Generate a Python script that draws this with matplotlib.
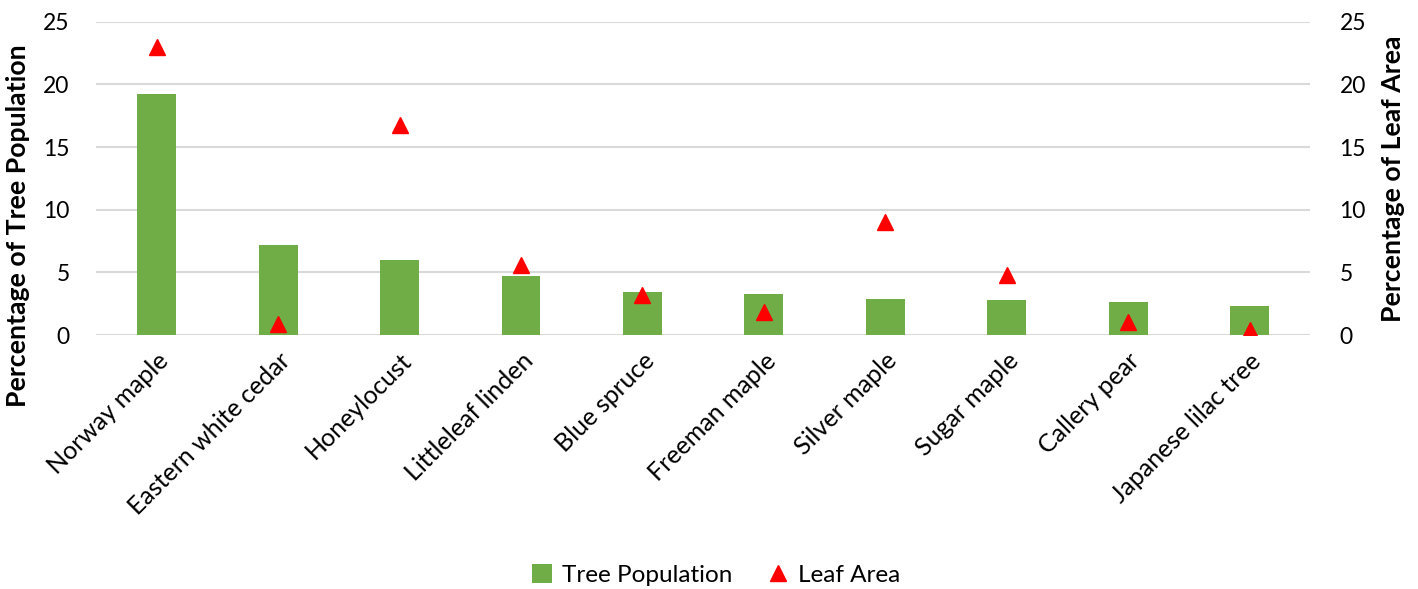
import matplotlib.pyplot as plt
import numpy as np

species = ['Norway maple', 'Eastern white cedar', 'Honeylocust', 'Littleleaf linden',
           'Blue spruce', 'Freeman maple', 'Silver maple', 'Sugar maple',
           'Callery pear', 'Japanese lilac tree']
tree_pop = [19.2, 7.2, 6.0, 4.7, 3.4, 3.3, 2.9, 2.8, 2.6, 2.3]
leaf_area = [22.95, 0.9, 16.75, 5.6, 3.2, 1.8, 9.0, 4.8, 1.0, 0.4]
yticks = [0, 5, 10, 15, 20, 25]

plt.rcParams['font.family'] = ['Lato', 'DejaVu Sans']

fig = plt.figure(figsize=(14.18, 5.89), dpi=100)
ax = fig.add_axes([0.0677, 0.4312, 0.8563, 0.5320])
ax2 = ax.twinx()

x = np.arange(len(species))
ax.bar(x, tree_pop, width=0.32, color='#70AD47', zorder=2, label='Tree Population')
ax2.plot(x, leaf_area, linestyle='none', marker='^', markersize=12,
         color='#FF0000', zorder=3, label='Leaf Area')

for a in (ax, ax2):
    a.set_ylim(0, 25)
    a.set_yticks(yticks)
    for s in a.spines.values():
        s.set_visible(False)
    a.tick_params(length=0, labelsize=16.5, colors='#000000')
ax.set_xlim(-0.5, len(species) - 0.5)
ax.yaxis.grid(True, color='#D9D9D9', linewidth=1.5, zorder=0)
ax.set_axisbelow(True)
ax.tick_params(axis='y', pad=19)
ax2.tick_params(axis='y', pad=21)

ax.set_xticks(x)
ax.set_xticklabels(species, rotation=45, ha='right', rotation_mode='anchor', fontsize=18)
ax.tick_params(axis='x', pad=10)

ax.set_ylabel('Percentage of Tree Population', fontsize=19.2, fontweight='bold')
ax2.set_ylabel('Percentage of Leaf Area', fontsize=19.2, fontweight='bold')
ax.yaxis.set_label_coords(-0.054, 0.35)
ax2.yaxis.set_label_coords(1.0585, 0.5)

h1, l1 = ax.get_legend_handles_labels()
h2, l2 = ax2.get_legend_handles_labels()
fig.legend(h1 + h2, l1 + l2, loc='center', bbox_to_anchor=(0.505, 0.024), ncol=2,
           frameon=False, fontsize=17.5, handlelength=0.8, handleheight=0.8,
           columnspacing=1.5, handletextpad=0.4)

fig.savefig('out.png', dpi=100)
